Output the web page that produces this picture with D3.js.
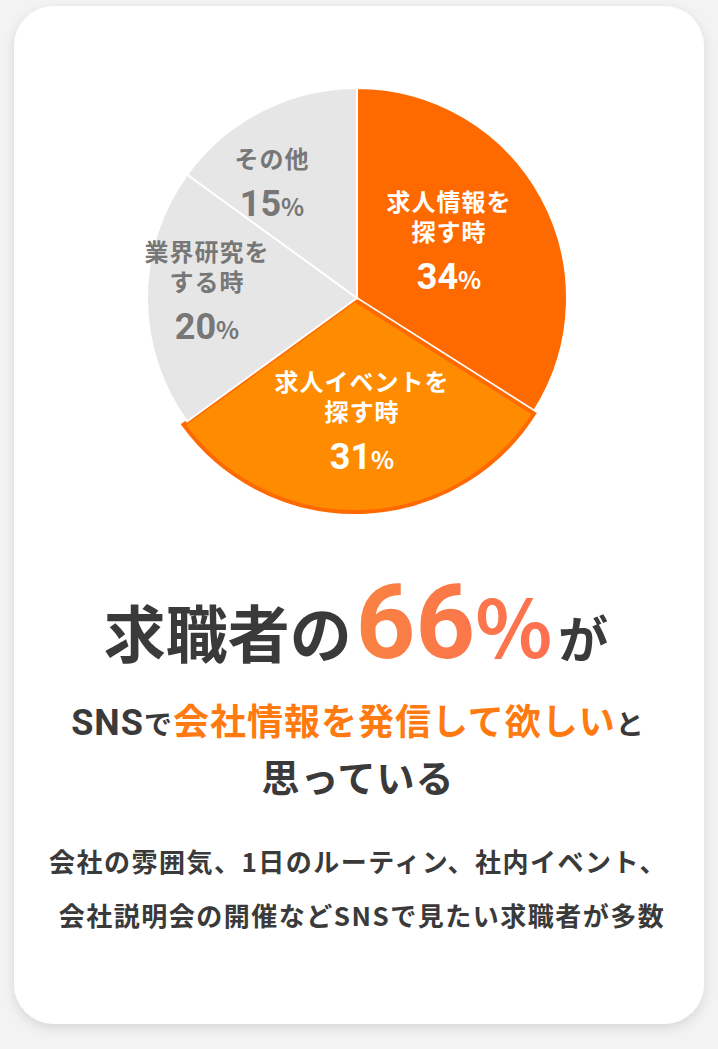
<!DOCTYPE html><html><head><meta charset="utf-8"><script src="https://cdn.jsdelivr.net/npm/d3@7"></script>
<style>body{margin:0;background:#f3f3f3;font-family:"Noto Sans CJK JP",sans-serif}</style></head><body><svg id="c" width="718" height="1049"></svg>
<script>
const categories=[["求人情報を","探す時"],["求人イベントを","探す時"],["業界研究を","する時"],["その他"]];
const values=[34,31,20,15];
const colors=["#FF6A00","#FF8C00","#E6E6E6","#E6E6E6"];
const textColors=["#fff","#fff","#777","#777"];
const svg=d3.select("#c");
const defs=svg.append("defs");
const f=defs.append("filter").attr("id","sh").attr("x","-10%").attr("y","-10%").attr("width","120%").attr("height","120%");
f.append("feDropShadow").attr("dx",0).attr("dy",4).attr("stdDeviation",6).attr("flood-color","#000").attr("flood-opacity",0.12);
const g1=defs.append("linearGradient").attr("id","gr").attr("x1","0").attr("x2","1");
g1.append("stop").attr("offset","0").attr("stop-color","#F39A2E");
g1.append("stop").attr("offset","1").attr("stop-color","#FF6A55");
svg.append("rect").attr("x",14).attr("y",6).attr("width",690).attr("height",1018).attr("rx",40).attr("fill","#fff").attr("filter","url(#sh)");
const cx=357,cy=298,R=210;
const pie=d3.pie().sort(null).value(d=>d)(values);
const arc=d3.arc().innerRadius(0).outerRadius(R);
const g=svg.append("g").attr("transform",`translate(${cx},${cy})`);
pie.forEach((p,i)=>{
  const a=i===1?d3.arc().innerRadius(0).outerRadius(R+2):arc;
  g.append("path").attr("d",a(p)).attr("fill",colors[i])
   .attr("stroke",i===1?"#FF6A00":"#fff").attr("stroke-width",i===1?4:2)
   .attr("transform",i===1?"translate(-2,2)":null);
});
const labelPos=[[92,-55],[5,125],[-150,-5],[-85,-112]];
pie.forEach((p,i)=>{
  const [x,y]=labelPos[i];
  const t=g.append("text").attr("text-anchor","middle").attr("fill",textColors[i]).attr("font-weight","bold").attr("letter-spacing",1);
  const lines=categories[i];
  let yy=y-(lines.length-1)*14-18;
  lines.forEach((l,k)=>t.append("tspan").attr("x",x).attr("y",yy+k*30).attr("font-size",24).text(l));
  const py=yy+lines.length*30+18;
  const pt=g.append("text").attr("text-anchor","middle").attr("fill",textColors[i]).attr("font-weight","bold").attr("x",x).attr("y",py);
  pt.append("tspan").attr("font-size",36).attr("font-family","Roboto,sans-serif").text(values[i]);
  pt.append("tspan").attr("font-size",24).text("%");
});
const h=svg.append("text").attr("x",356).attr("y",658).attr("text-anchor","middle").attr("font-weight","bold").attr("fill","#3a3a3a");
h.append("tspan").attr("font-size",62).text("求職者の");
h.append("tspan").attr("font-size",104).attr("fill","url(#gr)").attr("font-family","Roboto,sans-serif").attr("dx",4).text("66");
h.append("tspan").attr("font-size",80).attr("fill","url(#gr)").text("%");
h.append("tspan").attr("font-size",50).attr("dx",6).text("が");
const l2=svg.append("text").attr("x",358).attr("y",735).attr("text-anchor","middle").attr("font-weight","bold").attr("fill","#3a3a3a").attr("font-size",36).attr("letter-spacing",1);
l2.append("tspan").attr("font-family","Roboto,sans-serif").text("SNS");
l2.append("tspan").attr("font-size",28).text("で");
l2.append("tspan").attr("fill","#FF7A10").text("会社情報を発信して欲しい");
l2.append("tspan").attr("font-size",28).text("と");
svg.append("text").attr("x",358).attr("y",792).attr("text-anchor","middle").attr("font-weight","bold").attr("fill","#3a3a3a").attr("font-size",38).attr("letter-spacing",1).text("思っている");
svg.append("text").attr("x",358).attr("y",872).attr("text-anchor","middle").attr("font-weight","bold").attr("fill","#3a3a3a").attr("font-size",26).attr("letter-spacing",1.5).text("会社の雰囲気、1日のルーティン、社内イベント、");
svg.append("text").attr("x",362).attr("y",926).attr("text-anchor","middle").attr("font-weight","bold").attr("fill","#3a3a3a").attr("font-size",26).attr("letter-spacing",1.5).text("会社説明会の開催などSNSで見たい求職者が多数");
</script></body></html>
